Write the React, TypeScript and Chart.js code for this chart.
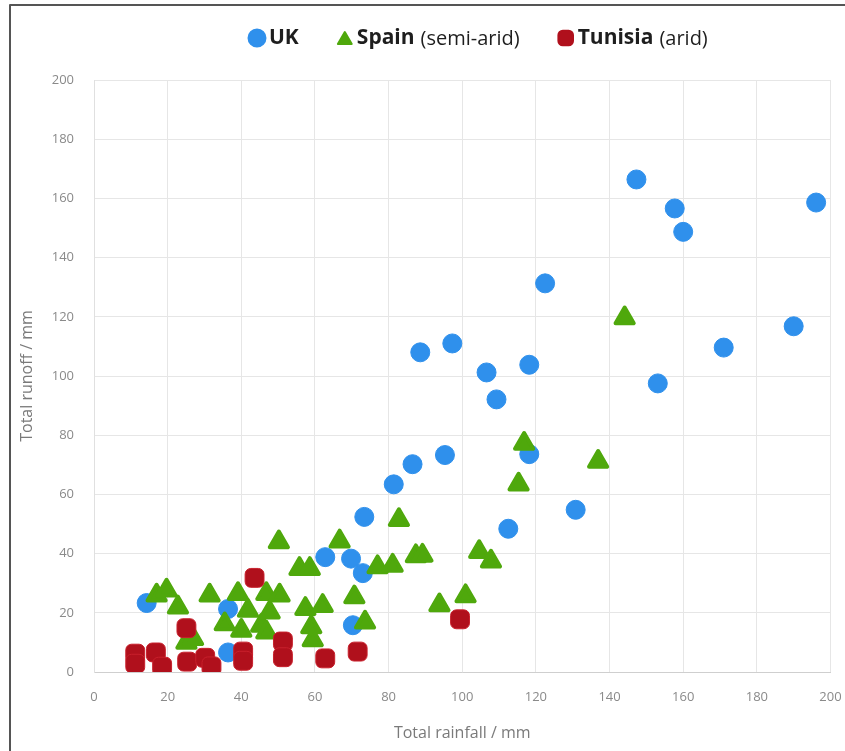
import React, { useEffect, useRef } from 'react';
import { Chart, registerables, Plugin } from 'chart.js';
import { drawPoint } from 'chart.js/helpers';

Chart.register(...registerables);

// Series names and notes shown in the legend
const seriesNames = ['UK', 'Spain', 'Tunisia'];
const seriesNotes = ['', '(semi-arid)', '(arid)'];

// Total rainfall (mm) / total runoff (mm) per event
const ukRainfall = [14.3, 36.4, 36.4, 62.8, 69.8, 73.0, 70.3, 73.4, 81.4, 86.5, 95.3, 88.6, 97.3, 106.6, 109.3, 118.2, 118.2, 112.5, 122.5, 130.8, 147.3, 153.1, 157.7, 160.0, 171.0, 190.0, 196.1];
const ukRunoff = [23.3, 21.3, 6.6, 38.8, 38.3, 33.4, 15.8, 52.4, 63.4, 70.2, 73.3, 108.0, 111.0, 101.2, 92.1, 103.8, 73.6, 48.4, 131.3, 54.8, 166.4, 97.5, 156.6, 148.7, 109.6, 116.8, 158.6];

const spainRainfall = [17.0, 19.7, 22.8, 25.1, 26.9, 31.4, 35.5, 39.1, 40.0, 41.8, 45.4, 46.8, 47.7, 46.8, 50.4, 50.2, 55.8, 58.6, 57.4, 62.1, 59.0, 59.4, 66.7, 70.7, 73.6, 77.0, 81.1, 82.8, 87.4, 89.2, 93.8, 100.9, 104.6, 107.8, 115.3, 116.8, 136.9, 144.1];
const spainRunoff = [25.9, 27.6, 21.9, 10.0, 11.2, 25.9, 16.2, 26.4, 14.0, 20.8, 15.7, 26.4, 20.2, 13.4, 25.9, 43.9, 34.9, 34.9, 21.4, 22.4, 15.2, 10.8, 44.2, 25.3, 16.8, 35.5, 36.0, 51.4, 39.2, 39.4, 22.6, 25.7, 40.6, 37.4, 63.4, 77.2, 71.1, 119.6];

const tunisiaRainfall = [11.2, 11.2, 16.8, 18.5, 25.1, 25.3, 30.2, 31.9, 40.5, 40.5, 43.6, 51.3, 51.3, 62.8, 71.6, 99.4];
const tunisiaRunoff = [6.2, 2.8, 6.6, 1.8, 14.8, 3.5, 4.8, 1.9, 6.9, 3.8, 31.8, 10.3, 5.0, 4.6, 6.9, 17.8];

// Axis ticks
const axisMin = 0;
const axisMax = 200;
const axisStep = 20;

const seriesColors = ['#2f90ec', '#4fa80c', '#b0101c'];
const seriesStyles = ['circle', 'triangle', 'rectRounded'];

const toPoints = (xs: number[], ys: number[]) => xs.map((x, i) => ({ x, y: ys[i] }));

// Draws the frame and a legend with a bold name and a lighter note
const legendPlugin: Plugin = {
  id: 'customLegend',
  beforeDatasetsDraw(chart) {
    chart.ctx.lineJoin = 'round';
  },
  afterDraw(chart) {
    const { ctx } = chart;
    ctx.save();
    // outer frame (left and top edges visible)
    ctx.strokeStyle = '#555';
    ctx.lineWidth = 2;
    ctx.beginPath();
    ctx.moveTo(10, chart.height + 5);
    ctx.lineTo(10, 5);
    ctx.lineTo(chart.width + 5, 5);
    ctx.stroke();

    const nameFont = "bold 21px 'Open Sans', sans-serif";
    const noteFont = "20px 'Open Sans', sans-serif";
    const y = 38;
    let x = 249;
    ctx.textBaseline = 'middle';
    ctx.lineJoin = 'round';
    seriesNames.forEach((name, i) => {
      ctx.fillStyle = seriesColors[i];
      ctx.strokeStyle = seriesColors[i];
      drawPoint(ctx, { pointStyle: seriesStyles[i] as any, radius: i === 1 ? 8 : 8.5, rotation: 0, borderWidth: 1 } as any, x + 8, i === 1 ? y + 2 : y);
      x += 20;
      ctx.fillStyle = '#1e1e1e';
      ctx.font = nameFont;
      ctx.fillText(name, x, y);
      x += ctx.measureText(name).width;
      if (seriesNotes[i]) {
        x += 6;
        ctx.font = noteFont;
        ctx.fillText(seriesNotes[i], x, y + 1);
        x += ctx.measureText(seriesNotes[i]).width;
      }
      x += 38;
    });
    ctx.restore();
  },
};

const App: React.FC = () => {
  const chartRef = useRef<HTMLCanvasElement>(null);
  const chartInstance = useRef<Chart | null>(null);

  useEffect(() => {
    document.body.style.margin = '0';
    if (!chartRef.current) return;
    if (chartInstance.current) {
      chartInstance.current.destroy();
    }
    const ctx = chartRef.current.getContext('2d');
    if (!ctx) return;

    const tickFont = { family: "'Open Sans', sans-serif", size: 13 };
    const titleFont = { family: "'Open Sans', sans-serif", size: 16 };

    chartInstance.current = new Chart(ctx, {
      type: 'scatter',
      data: {
        datasets: [
          {
            label: seriesNames[0],
            data: toPoints(ukRainfall, ukRunoff),
            backgroundColor: seriesColors[0],
            borderColor: seriesColors[0],
            pointStyle: 'circle',
            pointRadius: 9.5,
            borderWidth: 1,
            order: 3,
          },
          {
            label: seriesNames[1],
            data: toPoints(spainRainfall, spainRunoff),
            backgroundColor: seriesColors[1],
            borderColor: seriesColors[1],
            pointStyle: 'triangle',
            pointRadius: 10.5,
            borderWidth: 4,
            order: 2,
          },
          {
            label: seriesNames[2],
            data: toPoints(tunisiaRainfall, tunisiaRunoff),
            backgroundColor: seriesColors[2],
            borderColor: '#c8202c',
            pointStyle: 'rectRounded',
            pointRadius: 11,
            borderWidth: 1,
            order: 1,
          },
        ],
      },
      options: {
        responsive: false,
        animation: false,
        layout: {
          padding: { top: 80, right: 13, bottom: 0, left: 0 },
        },
        plugins: {
          legend: { display: false },
          tooltip: { enabled: false },
        },
        scales: {
          x: {
            type: 'linear',
            min: axisMin,
            max: axisMax,
            ticks: { stepSize: axisStep, color: '#8a8a8a', font: tickFont, padding: 17 },
            grid: { color: '#e6e6e6', drawTicks: false },
            border: { color: '#cfcfcf' },
            title: {
              display: true,
              text: 'Total rainfall / mm',
              color: '#7a7a7a',
              font: titleFont,
              padding: { top: 0, bottom: 8 },
            },
            afterFit: (scale: any) => {
              scale.height = 79;
              scale.paddingRight = 0;
              scale.paddingLeft = 0;
            },
          },
          y: {
            type: 'linear',
            min: axisMin,
            max: axisMax,
            ticks: { stepSize: axisStep, color: '#8a8a8a', font: tickFont, padding: 20 },
            grid: { color: '#e6e6e6', drawTicks: false },
            border: { color: '#e0e0e0' },
            title: {
              display: true,
              text: 'Total runoff / mm',
              color: '#7a7a7a',
              font: titleFont,
              padding: { top: 18, bottom: 0 },
            },
            afterFit: (scale: any) => {
              scale.width = 94;
              scale.paddingTop = 0;
              scale.paddingBottom = 0;
            },
          },
        },
      },
      plugins: [legendPlugin],
    });

    return () => {
      if (chartInstance.current) {
        chartInstance.current.destroy();
        chartInstance.current = null;
      }
    };
  }, []);

  return (
    <div style={{ width: 845, height: 751, background: '#fff' }}>
      <canvas ref={chartRef} width={845} height={751} />
    </div>
  );
};

export default App;
